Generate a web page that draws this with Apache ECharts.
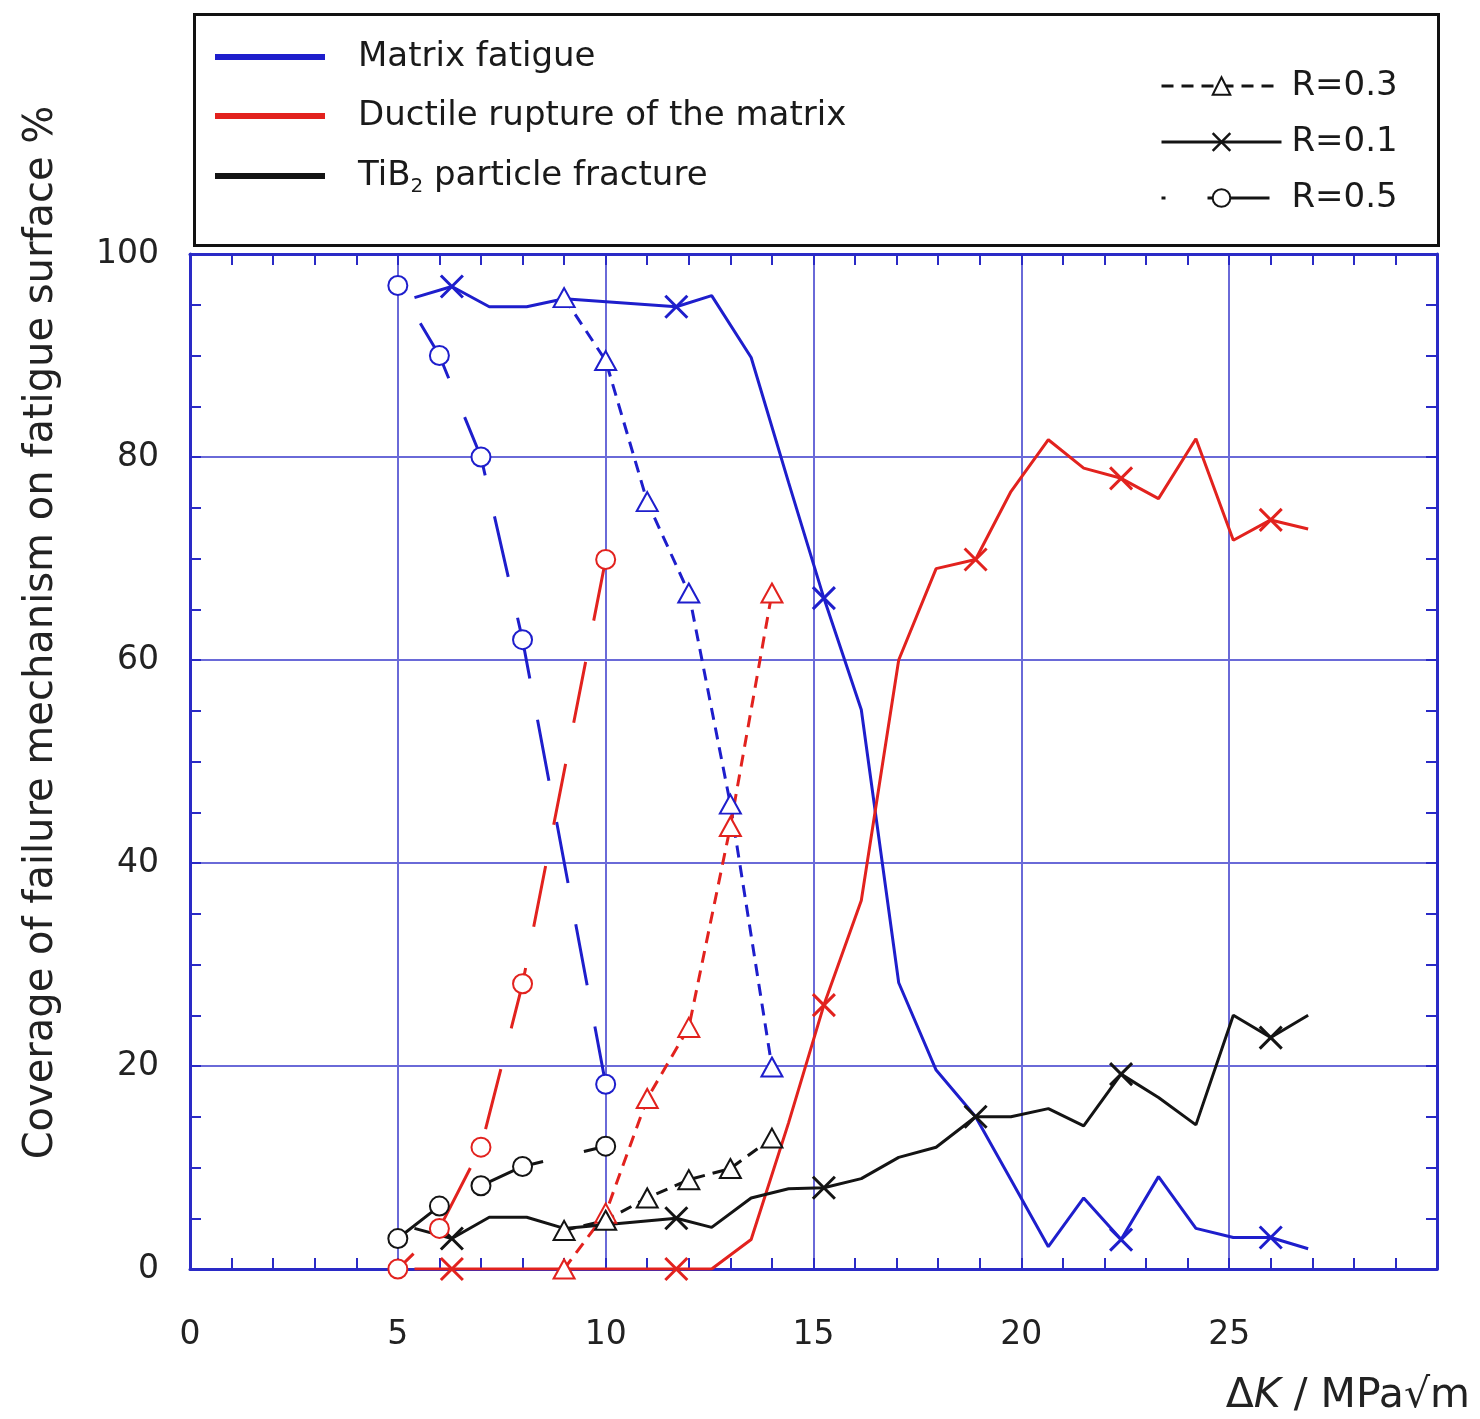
<!DOCTYPE html>
<html>
<head>
<meta charset="utf-8">
<title>Failure mechanism coverage vs ΔK</title>
<script src="https://cdn.jsdelivr.net/npm/echarts@6/dist/echarts.min.js"></script>
<style>
  html, body { margin: 0; padding: 0; background: #fff; }
  #chart { width: 1480px; height: 1419px; }
</style>
</head>
<body>
<div id="chart"></div>
<script>
// ---- data: coverage (%) of each failure mechanism vs ΔK (MPa√m) ----
// R = 0.1
const dkR01 = [5.4, 6.3, 7.2, 8.1, 9.0, 11.7, 12.55, 13.5, 14.4, 15.25, 16.15, 17.05, 17.95, 18.9, 19.75, 20.65, 21.5, 22.4, 23.3, 24.2, 25.1, 26.0, 26.9];
const fatigueR01  = [95.7, 96.8, 94.8, 94.8, 95.6, 94.8, 95.9, 89.8, 77.5, 66.1, 55.1, 28.2, 19.6, 15.0, 8.8, 2.2, 7.0, 2.9, 9.1, 4.0, 3.1, 3.1, 2.0];
const ductileR01  = [0, 0, 0, 0, 0, 0, 0, 2.9, 14.4, 26.0, 36.3, 60.0, 69.0, 69.9, 76.6, 81.7, 78.9, 77.9, 75.9, 81.8, 71.8, 73.8, 72.9];
const particleR01 = [4.0, 3.0, 5.1, 5.1, 4.0, 5.0, 4.1, 7.0, 7.9, 8.0, 8.9, 11.0, 12.0, 15.0, 15.0, 15.8, 14.1, 19.2, 16.9, 14.2, 25.0, 22.8, 25.0];
// points of the R = 0.1 curves that carry a marker
const markedFatigueR01  = [6.3, 11.7, 15.25, 22.4, 26.0];
const markedDuctileR01  = [6.3, 11.7, 15.25, 18.9, 22.4, 26.0];
const markedParticleR01 = [6.3, 11.7, 15.25, 18.9, 22.4, 26.0];

// R = 0.3
const dkR03 = [9, 10, 11, 12, 13, 14];
const fatigueR03  = [95.7, 89.5, 75.6, 66.6, 45.8, 19.9];
const ductileR03  = [0, 5.5, 16.8, 23.8, 43.6, 66.6];
const particleR03 = [3.8, 4.8, 7.0, 8.8, 9.9, 12.9];

// R = 0.5
const dkR05 = [5, 6, 7, 8, 10];
const fatigueR05  = [96.9, 90.0, 80.0, 62.0, 18.2];
const ductileR05  = [0, 4.0, 12.0, 28.1, 69.9];
const particleR05 = [3.0, 6.2, 8.2, 10.1, 12.1];

// legend entries
const mechanismNames = ['Matrix fatigue', 'Ductile rupture of the matrix', 'TiB2 particle fracture'];
const ratioNames = ['R=0.3', 'R=0.1', 'R=0.5'];

// axis ranges
const xRange = [0, 30], xStep = 5;
const yRange = [0, 100], yStep = 20;

// ---- styling ----
const FONT = 'DejaVu Sans';
const BLUE = '#1e1ecc', RED = '#e2221e', BLACK = '#141414';
const FRAME = '#2a2ac6', GRID = '#6a6ad8';
const CROSS = 'path://M0,0L10,10M10,0L0,10';
const LINE_W = 3;
const MARK_W = 3;

const dashStyle = {
  'R=0.1': 'solid',
  'R=0.3': [12, 8],
  'R=0.5': [62, 42]
};
const markerOf = {
  'R=0.1': { symbol: CROSS, size: 22 },
  'R=0.3': { symbol: 'emptyTriangle', size: [21, 19] },
  'R=0.5': { symbol: 'emptyCircle', size: 19 }
};

function curve(name, ratio, color, xs, ys, marked, dashOffset) {
  const m = markerOf[ratio];
  const data = xs.map((x, i) => {
    const item = { value: [x, ys[i]] };
    if (marked && marked.indexOf(x) < 0) item.symbol = 'none';
    return item;
  });
  return {
    name: name + ' ' + ratio,
    type: 'line',
    data: data,
    symbol: m.symbol,
    symbolSize: m.size,
    showAllSymbol: true,
    animation: false,
    lineStyle: { color: color, width: LINE_W, type: dashStyle[ratio], dashOffset: dashOffset || 0 },
    itemStyle: { color: color, borderColor: color, borderWidth: MARK_W },
    emphasis: { disabled: true }
  };
}

// legend-only series (no data)
function legendSeries(name, color, ratio, dashOffset) {
  const s = {
    name: name, type: 'line', data: [], animation: false,
    lineStyle: { color: color, width: LINE_W, type: ratio ? dashStyle[ratio] : 'solid', dashOffset: dashOffset || 0 },
    itemStyle: { color: color, borderColor: color, borderWidth: MARK_W }
  };
  if (ratio) { s.symbol = markerOf[ratio].symbol; }
  return s;
}

const series = [
  curve('Matrix fatigue', 'R=0.1', BLUE, dkR01, fatigueR01, markedFatigueR01),
  curve('Ductile rupture', 'R=0.1', RED, dkR01, ductileR01, markedDuctileR01),
  curve('Particle fracture', 'R=0.1', BLACK, dkR01, particleR01, markedParticleR01),
  curve('Matrix fatigue', 'R=0.3', BLUE, dkR03, fatigueR03),
  curve('Ductile rupture', 'R=0.3', RED, dkR03, ductileR03),
  curve('Particle fracture', 'R=0.3', BLACK, dkR03, particleR03),
  curve('Matrix fatigue', 'R=0.5', BLUE, dkR05, fatigueR05, null, 60),
  curve('Ductile rupture', 'R=0.5', RED, dkR05, ductileR05, null, 40),
  curve('Particle fracture', 'R=0.5', BLACK, dkR05, particleR05),
  legendSeries(mechanismNames[0], BLUE),
  legendSeries(mechanismNames[1], RED),
  legendSeries(mechanismNames[2], BLACK),
  legendSeries(ratioNames[0], BLACK, 'R=0.3'),
  legendSeries(ratioNames[1], BLACK, 'R=0.1'),
  legendSeries(ratioNames[2], BLACK, 'R=0.5', 58)
];

const tickStyle = { show: true, inside: true, length: 11, lineStyle: { color: FRAME, width: 2 } };
const frameLine = { show: true, onZero: false, lineStyle: { color: FRAME, width: 3 } };

function xAxisDef(pos, withLabels) {
  return {
    type: 'value', min: xRange[0], max: xRange[1], interval: xStep, position: pos,
    axisLine: frameLine,
    axisTick: tickStyle,
    minorTick: { show: true, splitNumber: 5, length: 11, lineStyle: { color: FRAME, width: 2 } },
    splitLine: { show: withLabels, lineStyle: { color: GRID, width: 2 } },
    axisLabel: withLabels ? {
      show: true, margin: 50, fontSize: 33, fontFamily: FONT, color: '#222',
      formatter: v => (v >= 30 ? '' : String(v))
    } : { show: false },
    name: withLabels ? '{n|Δ}{k|K}{n| / MPa√m}' : '',
    nameLocation: 'end',
    nameGap: 33,
    nameTextStyle: {
      align: 'right', verticalAlign: 'top', padding: [107, 0, 0, 0],
      rich: {
        n: { fontSize: 41, fontFamily: FONT, color: '#222' },
        k: { fontSize: 41, fontFamily: FONT, fontStyle: 'italic', color: '#222' }
      }
    }
  };
}

function yAxisDef(pos, withLabels) {
  return {
    type: 'value', min: yRange[0], max: yRange[1], interval: yStep, position: pos,
    axisLine: frameLine,
    axisTick: tickStyle,
    minorTick: { show: true, splitNumber: 4, length: 11, lineStyle: { color: FRAME, width: 2 } },
    splitLine: { show: withLabels, lineStyle: { color: GRID, width: 2 } },
    axisLabel: withLabels ? { show: true, margin: 31, fontSize: 33, fontFamily: FONT, color: '#222' } : { show: false },
    name: withLabels ? 'Coverage of failure mechanism on fatigue surface %' : '',
    nameLocation: 'middle',
    nameGap: 128,
    nameTextStyle: { fontSize: 40, fontFamily: FONT, color: '#222', padding: [0, 0, 0, 258] }
  };
}

const legendText = {
  fontSize: 34, fontFamily: FONT, color: '#1a1a1a', lineHeight: 40,
  rich: {
    sub: { fontSize: 20, fontFamily: FONT, color: '#1a1a1a', lineHeight: 18, padding: [22, 0, 0, 0] }
  }
};

const option = {
  backgroundColor: '#ffffff',
  animation: false,
  grid: { left: 190, right: 43, top: 254, bottom: 150, containLabel: false },
  xAxis: [xAxisDef('bottom', true), xAxisDef('top', false)],
  yAxis: [yAxisDef('left', true), yAxisDef('right', false)],
  legend: [
    {
      orient: 'vertical', left: 215, top: 37, itemGap: 19, padding: 0,
      itemWidth: 108, itemHeight: 4, selectedMode: false,
      data: mechanismNames.map(n => ({ name: n, icon: 'rect' })),
      textStyle: Object.assign({ padding: [0, 0, 0, 29] }, legendText),
      formatter: n => n.replace('TiB2', 'TiB{sub|2}')
    },
    {
      orient: 'vertical', left: 1160, top: 66, itemGap: 16, padding: 0,
      itemWidth: 120, itemHeight: 22, selectedMode: false,
      data: ratioNames,
      lineStyle: { width: 3 },
      itemStyle: { borderWidth: 2.5 },
      textStyle: Object.assign({ padding: [0, 0, 0, 5] }, legendText)
    }
  ],
  graphic: [
    {
      type: 'rect', left: 192, top: 12, silent: true, z: 0,
      shape: { width: 1244, height: 231 },
      style: { fill: 'none', stroke: '#111', lineWidth: 3 }
    }
  ],
  series: series
};

const chart = echarts.init(document.getElementById('chart'), null, { renderer: 'canvas' });
chart.setOption(option);
</script>
</body>
</html>
